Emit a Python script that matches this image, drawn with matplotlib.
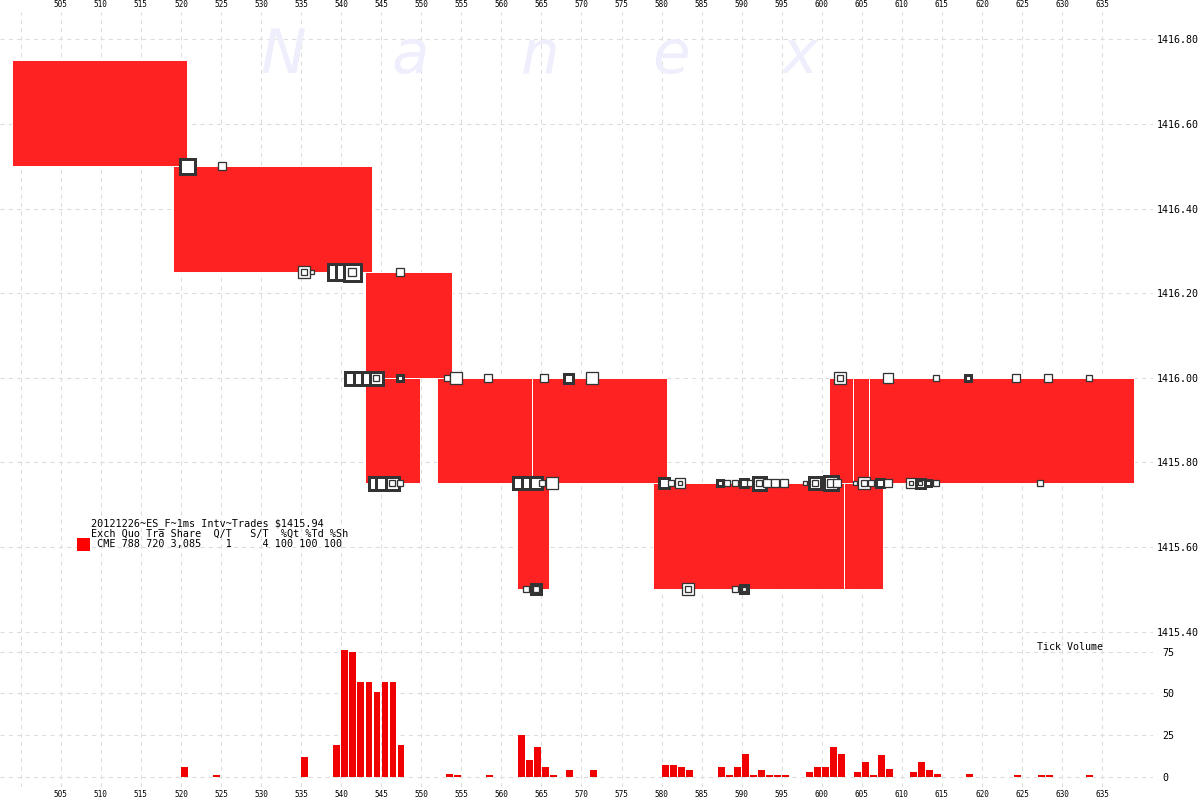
import matplotlib
matplotlib.use("Agg")
import matplotlib.pyplot as plt
from matplotlib.patches import Rectangle

plt.rcParams['lines.scale_dashes'] = False
plt.rcParams['font.family'] = ['DejaVu Sans Mono']

# ---------------- data ----------------
# quote boxes (time in ms, price range)
rect_t0 = [498.9, 519.0, 543.0, 543.0, 552.0, 563.8, 562.0, 578.9, 602.8, 600.9, 603.9, 605.9]
rect_t1 = [520.7, 543.8, 553.8, 549.8, 563.8, 580.7, 565.9, 602.8, 607.6, 603.9, 605.9, 639.0]
rect_lo = [1416.50, 1416.25, 1416.00, 1415.75, 1415.75, 1415.75, 1415.50, 1415.50, 1415.50, 1415.75, 1415.75, 1415.75]
rect_hi = [1416.75, 1416.50, 1416.25, 1416.00, 1416.00, 1416.00, 1415.75, 1415.75, 1415.75, 1416.00, 1416.00, 1416.00]

# trades: time, price, marker size (px), bold edge, double square
trade_t = [520.8, 525.1, 535.35, 536.4, 539.4, 540.3, 541.2, 541.3, 542.4, 543.4,
           544.2, 544.3, 545.1, 546.3, 547.3, 547.3, 547.35, 553.2, 554.3, 558.3,
           562.2, 563.1, 563.3, 564.3, 564.3, 565.1, 565.3, 566.3, 568.3, 571.3,
           580.3, 581.2, 582.3, 583.3, 587.25, 588.2, 589.2, 589.2, 590.3, 590.3,
           591.1, 592.2, 593.2, 594.2, 595.3, 597.9, 599.2, 601.2, 601.9, 602.3,
           604.1, 605.3, 606.2, 607.3, 608.3, 608.3, 611.1, 612.2, 613.3, 614.3,
           614.3, 618.3, 624.3, 627.2, 628.3, 633.3]
trade_p = [1416.50, 1416.50, 1416.25, 1416.25, 1416.25, 1416.25, 1416.00, 1416.25, 1416.00, 1416.00,
           1415.75, 1416.00, 1415.75, 1415.75, 1416.25, 1416.00, 1415.75, 1416.00, 1416.00, 1416.00,
           1415.75, 1415.50, 1415.75, 1415.75, 1415.50, 1415.75, 1416.00, 1415.75, 1416.00, 1416.00,
           1415.75, 1415.75, 1415.75, 1415.50, 1415.75, 1415.75, 1415.75, 1415.50, 1415.75, 1415.50,
           1415.75, 1415.75, 1415.75, 1415.75, 1415.75, 1415.75, 1415.75, 1415.75, 1415.75, 1416.00,
           1415.75, 1415.75, 1415.75, 1415.75, 1415.75, 1416.00, 1415.75, 1415.75, 1415.75, 1415.75,
           1416.00, 1416.00, 1416.00, 1415.75, 1416.00, 1416.00]
trade_sz = [18, 10, 13, 5, 19, 19, 16, 20, 16, 16,
            16, 16, 16, 16, 10, 9, 8, 7, 14, 9,
            15, 8, 15, 15, 13, 8, 9, 14, 12, 14,
            13, 8, 12, 13, 9, 8, 8, 8, 11, 11,
            8, 16, 9, 9, 9, 6, 15, 17, 10, 13,
            6, 13, 7, 11, 9, 12, 11, 12, 9, 7,
            7, 9, 9, 7, 9, 7]
trade_bold = [1, 0, 0, 0, 1, 1, 1, 1, 1, 1,
              1, 1, 1, 1, 0, 1, 0, 0, 0, 0,
              1, 0, 1, 1, 1, 0, 0, 0, 1, 0,
              1, 0, 0, 0, 1, 0, 0, 0, 1, 1,
              0, 1, 0, 0, 0, 0, 1, 1, 0, 0,
              0, 0, 0, 1, 0, 0, 0, 1, 1, 0,
              0, 1, 0, 0, 0, 0]
trade_dbl = [0, 0, 1, 0, 0, 0, 0, 1, 0, 0,
             0, 1, 0, 1, 0, 0, 0, 0, 0, 0,
             0, 0, 0, 0, 1, 0, 0, 0, 0, 0,
             0, 0, 1, 1, 0, 0, 0, 0, 0, 1,
             0, 1, 0, 0, 0, 0, 1, 1, 0, 1,
             0, 1, 0, 0, 0, 0, 1, 1, 0, 0,
             0, 0, 0, 0, 0, 0]

# tick volume per 1 ms bin
vol_t = [520, 524, 535, 539, 540, 541, 542, 543, 544, 545, 546, 547, 553, 554, 558,
         562, 563, 564, 565, 566, 568, 571, 580, 581, 582, 583, 587, 588, 589, 590,
         591, 592, 593, 594, 595, 598, 599, 600, 601, 602, 604, 605, 606, 607, 608,
         611, 612, 613, 614, 618, 624, 627, 628, 633]
vol_n = [6, 1, 12, 19, 76, 75, 57, 57, 51, 57, 57, 19, 2, 1, 1,
         25, 10, 18, 6, 1, 4, 4, 7, 7, 6, 4, 6, 1, 6, 14,
         1, 4, 1, 1, 1, 3, 6, 6, 18, 14, 3, 9, 1, 13, 5,
         3, 9, 4, 2, 2, 1, 1, 1, 1]

price_ticks = [1415.40, 1415.60, 1415.80, 1416.00, 1416.20, 1416.40, 1416.60, 1416.80]
vol_ticks = [0, 25, 50, 75]
x_ticks = list(range(500, 640, 5))
x_labels = [''] + [str(v) for v in x_ticks[1:]]

legend_lines = ["20121226~ES_F~1ms Intv~Trades $1415.94",
                "Exch Quo Tra Share  Q/T   S/T  %Qt %Td %Sh",
                " CME 788 720 3,085    1     4 100 100 100"]

# ---------------- figure ----------------
W, H = 1200, 800
fig = plt.figure(figsize=(12, 8), dpi=100)
axp = fig.add_axes([0, 1 - 640 / H, 1153 / W, (640 - 12) / H])
axv = fig.add_axes([0, 1 - 787 / H, 1153 / W, (787 - 640) / H], sharex=axp)

for ax in (axp, axv):
    for s in ax.spines.values():
        s.set_visible(False)
    ax.set_facecolor('none')
    ax.set_axisbelow(True)
    ax.grid(True, color='#DDDDDD', linestyle=(0, (3, 3)), linewidth=0.8)

axp.set_xlim(497.41, 641.35)
axp.set_ylim(1415.38, 1416.8645)
axv.set_ylim(-6.0, 81.9)

axp.set_xticks(x_ticks)
axp.set_xticklabels(x_labels)
axp.tick_params(axis='x', length=0, labeltop=True, labelbottom=False, labelsize=5.6, pad=2)
axv.tick_params(axis='x', length=0, labeltop=False, labelbottom=True, labelsize=5.6, pad=2)

axp.yaxis.tick_right()
axp.set_yticks(price_ticks)
axp.set_yticklabels([f"{v:.2f}" for v in price_ticks])
axp.tick_params(axis='y', length=0, pad=3, labelsize=7.2)

axv.yaxis.tick_right()
axv.set_yticks(vol_ticks)
axv.tick_params(axis='y', length=0, pad=6.5, labelsize=7.2)

# quote boxes
for t0, t1, lo, hi in zip(rect_t0, rect_t1, rect_lo, rect_hi):
    axp.add_patch(Rectangle((t0, lo), t1 - t0, hi - lo, facecolor='#FF2222',
                            edgecolor='white', linewidth=0.7, zorder=2))

# trades
px2pt = 0.72
z = 3
for t, p, sz, b, d in zip(trade_t, trade_p, trade_sz, trade_bold, trade_dbl):
    lw_px = 3.0 if b else 1.3
    side = (sz - lw_px) * px2pt
    axp.plot([t], [p], marker='s', markersize=side, markerfacecolor='white',
             markeredgecolor='#333333', markeredgewidth=lw_px * px2pt,
             linestyle='none', zorder=z, clip_on=False)
    z += 0.01
    if d:
        inner = sz * 0.5
        axp.plot([t], [p], marker='s', markersize=(inner - 1.3) * px2pt,
                 markerfacecolor='white', markeredgecolor='#333333',
                 markeredgewidth=1.3 * px2pt, linestyle='none', zorder=z, clip_on=False)
        z += 0.01

# tick volume bars
axv.bar([t + 0.04 for t in vol_t], vol_n, width=0.86, align='edge',
        color='#F00000', linewidth=0, zorder=2)
axv.text(1103 / 1153, 1 - (647 - 640) / (787 - 640), "Tick Volume", transform=axv.transAxes,
         ha='right', va='center', fontsize=7.2, color='black')

# watermark
for ch, cx in zip("Nanex", [283.5, 410.5, 540.5, 671, 799.6]):
    fig.text(cx / W, 1 - 73 / H, ch, fontsize=44, color='#EEEEFC',
             family='DejaVu Sans', style='italic', ha='center', va='baseline', zorder=0)

# legend block
for i, line in enumerate(legend_lines):
    fig.text(91 / W, 1 - (524 + i * 9.8) / H, line, fontsize=7.3, ha='left',
             va='center', color='black')
fig.patches.append(Rectangle((77 / W, 1 - 551 / H), 13 / W, 13 / H, transform=fig.transFigure,
                             facecolor='#FF0000', edgecolor='none'))

fig.savefig("out.png", dpi=100)
